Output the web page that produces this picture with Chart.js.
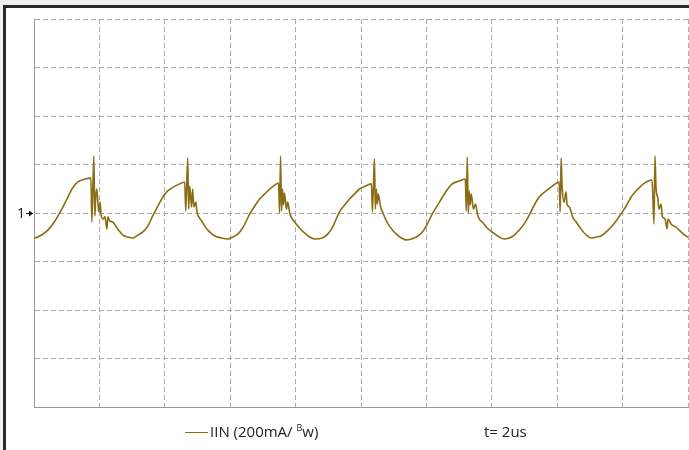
<!DOCTYPE html>
<html>
<head>
<meta charset="utf-8">
<script src="https://cdn.jsdelivr.net/npm/chart.js@4/dist/chart.umd.min.js"></script>
<style>
  html, body { margin: 0; padding: 0; }
  body { width: 689px; height: 450px; background: #efefef; position: relative; overflow: hidden; font-family: "Open Sans", "DejaVu Sans", sans-serif; }
  #frame { position: absolute; left: 3px; top: 5px; right: 0; bottom: 0; background: #fff; border-left: 3px solid #2b2b2b; border-top: 3px solid #2b2b2b; }
  #wrap { position: absolute; left: 0; top: 0; width: 689px; height: 450px; }
  .lbl { position: absolute; font-size: 15px; color: #222; white-space: nowrap; letter-spacing: 0; }
  .lbl sup { font-size: 9px; vertical-align: 6px; }
  #legline { position: absolute; left: 185px; top: 432px; width: 23px; height: 0; border-top: 1.5px solid #8a6d12; }
</style>
</head>
<body>
<div id="frame"></div>
<div id="wrap"><canvas id="scope" width="689" height="450"></canvas></div>
<div id="legline"></div>
<div class="lbl" style="left:210px; top:421px;">IIN (200mA/ <sup>B</sup>w)</div>
<div class="lbl" style="left:484px; top:421px;">t= 2us</div>
<script>
// trace: time in us, current in mA (200mA/div, 2us/div)
const timeUs = [
  0.00, 0.12, 0.40, 0.64, 0.85, 1.01, 1.16, 1.34, 1.56, 1.74, 1.77, 1.83, 1.86, 1.89, 1.92, 1.98,
  2.02, 2.05, 2.11, 2.17, 2.23, 2.26, 2.32, 2.41, 2.56, 2.72, 2.87, 3.02, 3.18, 3.33, 3.48, 3.63,
  3.79, 3.94, 4.09, 4.31, 4.52, 4.61, 4.64, 4.70, 4.73, 4.76, 4.82, 4.85, 4.89, 4.95, 4.98, 5.04,
  5.13, 5.22, 5.37, 5.53, 5.74, 5.92, 6.08, 6.23, 6.38, 6.60, 6.75, 6.90, 7.05, 7.21, 7.36, 7.48,
  7.51, 7.54, 7.57, 7.60, 7.63, 7.66, 7.72, 7.76, 7.82, 7.88, 7.97, 8.12, 8.27, 8.43, 8.58, 8.82,
  8.98, 9.13, 9.34, 9.50, 9.65, 9.80, 9.95, 10.14, 10.32, 10.35, 10.41, 10.44, 10.47, 10.50, 10.53, 10.60,
  10.66, 10.75, 10.87, 11.08, 11.24, 11.39, 11.54, 11.69, 11.88, 12.03, 12.18, 12.40, 12.61, 12.79, 13.01, 13.19,
  13.22, 13.25, 13.28, 13.31, 13.34, 13.37, 13.44, 13.50, 13.56, 13.62, 13.71, 13.86, 14.05, 14.23, 14.38, 14.53,
  14.69, 14.84, 14.99, 15.15, 15.30, 15.45, 15.66, 15.85, 16.06, 16.09, 16.12, 16.15, 16.21, 16.27, 16.30, 16.37,
  16.43, 16.46, 16.58, 16.73, 16.89, 17.04, 17.19, 17.34, 17.50, 17.65, 17.80, 17.95, 18.11, 18.26, 18.41, 18.56,
  18.72, 18.90, 18.96, 18.99, 19.02, 19.08, 19.11, 19.18, 19.21, 19.30, 19.36, 19.39, 19.48, 19.63, 19.79, 19.94,
  20.00
];
const currentMa = [
  -103, -99, -74, -33, 16, 58, 99, 128, 140, 144, -37, 235, -12, 70, 99, 4,
  45, -4, -25, -16, -66, -16, -33, -37, -66, -91, -99, -103, -91, -78, -54, -12,
  29, 66, 91, 111, 124, 128, 8, 227, 16, 111, 25, 99, 25, 45, 8, -16,
  -33, -54, -78, -95, -103, -107, -99, -87, -62, -4, 29, 58, 78, 99, 115, 124,
  0, 235, 8, 99, 33, 82, 16, 45, 0, -21, -37, -62, -82, -99, -107, -103,
  -87, -58, 4, 33, 58, 78, 99, 111, 120, 4, 223, 16, 99, 37, 78, 25,
  4, -25, -54, -87, -103, -111, -107, -99, -78, -45, -4, 45, 91, 120, 132, 140,
  8, 231, 0, 91, 33, 78, 16, 37, -4, -25, -37, -62, -82, -99, -107, -103,
  -91, -70, -45, -8, 33, 66, 91, 111, 128, 4, 227, 111, 45, 87, 37, 25,
  4, -12, -37, -66, -91, -103, -99, -95, -78, -58, -33, -4, 29, 66, 91, 111,
  128, 136, -45, 235, 111, 58, 16, 37, -12, -25, -66, -25, -45, -58, -78, -95,
  -99
];
const timeRange = [0, 20];
const timePerDiv = 2;
const currentRange = [-800, 800];
const currentPerDiv = 200;
const channelLabel = '1';

const points = timeUs.map((t, i) => ({ x: t, y: currentMa[i] }));

// channel marker "1→" at the zero level, left of the grid
const markerPlugin = {
  id: 'marker',
  afterDraw(chart) {
    const ctx = chart.ctx;
    const y = chart.scales.y.getPixelForValue(0);
    const x0 = chart.chartArea.left;
    ctx.save();
    ctx.fillStyle = '#111';
    ctx.strokeStyle = '#111';
    ctx.font = '14px "Open Sans", sans-serif';
    ctx.textBaseline = 'middle';
    ctx.textAlign = 'right';
    ctx.fillText(channelLabel, x0 - 9, y + 1);
    ctx.lineWidth = 1;
    ctx.beginPath();
    ctx.moveTo(x0 - 8, y + 0.5);
    ctx.lineTo(x0 - 1, y + 0.5);
    ctx.stroke();
    ctx.beginPath();
    ctx.moveTo(x0 - 1, y + 0.5);
    ctx.lineTo(x0 - 5, y - 2.5);
    ctx.lineTo(x0 - 5, y + 3.5);
    ctx.closePath();
    ctx.fill();
    ctx.restore();
  }
};

const ctx = document.getElementById('scope').getContext('2d');
const scopeChart = new Chart(ctx, {
  type: 'line',
  data: {
    datasets: [{
      label: 'IIN',
      data: points,
      borderColor: '#8a6d12',
      borderWidth: 1.6,
      pointRadius: 0,
      cubicInterpolationMode: 'monotone',
      fill: false
    }]
  },
  options: {
    responsive: false,
    animation: false,
    layout: { padding: { left: 34, top: 19, right: 1, bottom: 43 } },
    plugins: { legend: { display: false }, tooltip: { enabled: false } },
    scales: {
      x: {
        type: 'linear',
        min: timeRange[0],
        max: timeRange[1],
        ticks: { display: false, stepSize: timePerDiv },
        grid: { color: '#ababab', lineWidth: 1, drawTicks: false },
        border: { display: true, color: '#9a9a9a', width: 1, dash: [5, 3] }
      },
      y: {
        type: 'linear',
        min: currentRange[0],
        max: currentRange[1],
        ticks: { display: false, stepSize: currentPerDiv },
        grid: { color: '#ababab', lineWidth: 1, drawTicks: false },
        border: { display: true, color: '#9a9a9a', width: 1, dash: [5, 3] }
      }
    }
  },
  plugins: [markerPlugin]
});
</script>
</body>
</html>
